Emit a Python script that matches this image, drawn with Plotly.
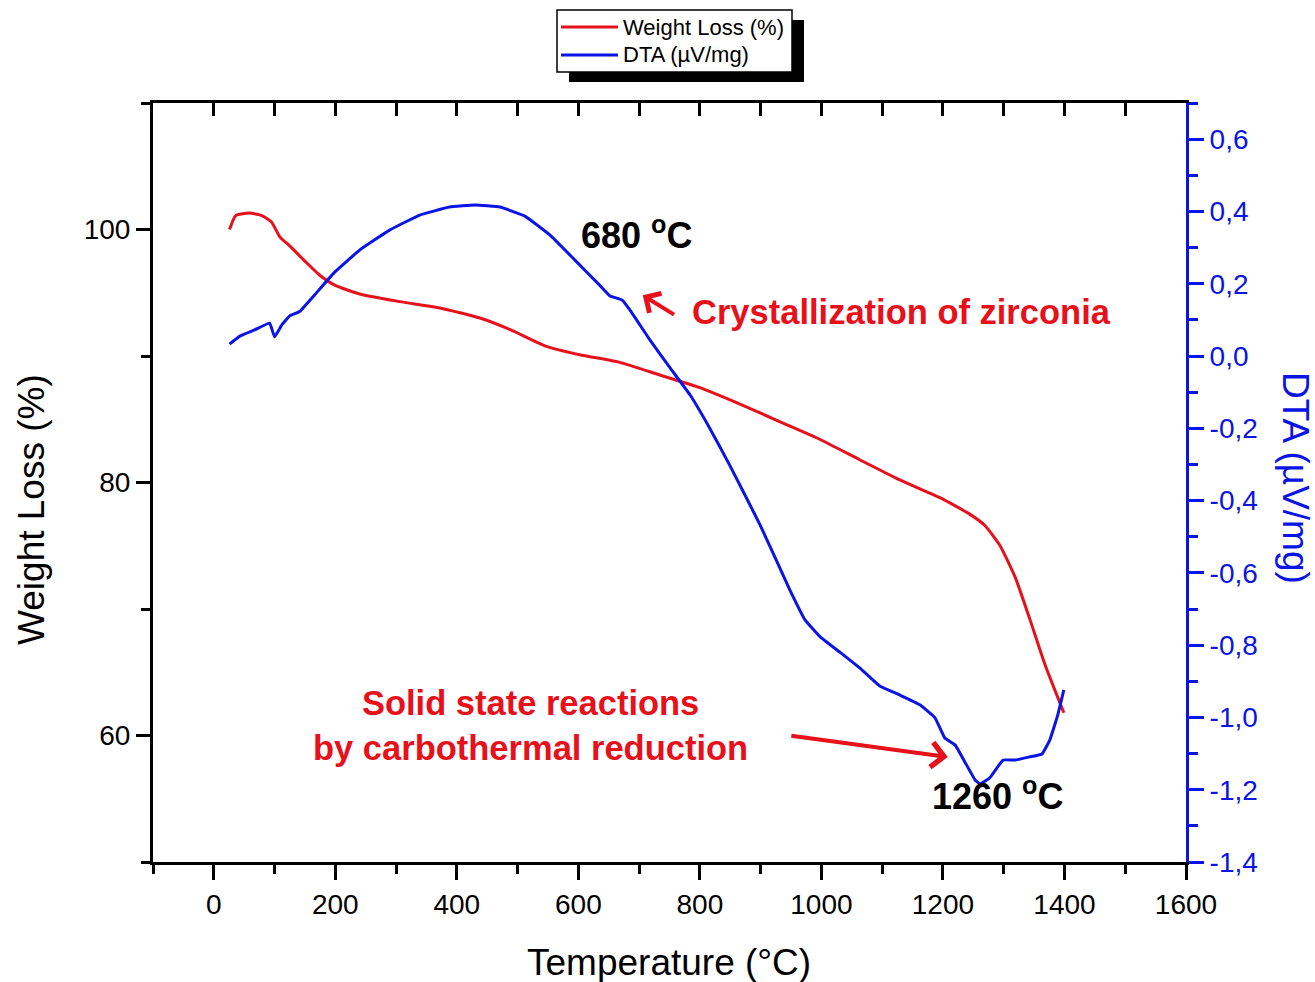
import plotly.graph_objects as go

# ---- data ----
temp_wl = [26, 36, 59, 79, 95, 109, 125, 150, 174, 199, 240, 306, 372, 438, 487, 545, 602, 668,
           734, 800, 866, 932, 998, 1063, 1129, 1195, 1244, 1269, 1294, 1319, 1343, 1368, 1399]
weight_loss = [100.0, 101.1, 101.3, 101.1, 100.6, 99.4, 98.7, 97.5, 96.4, 95.6, 94.9, 94.3, 93.8,
               93.0, 92.1, 90.8, 90.1, 89.5, 88.5, 87.5, 86.2, 84.8, 83.4, 81.8, 80.2, 78.8, 77.5,
               76.6, 75.0, 72.5, 69.2, 65.6, 61.8]

temp_dta = [26, 43, 67, 92, 100, 112, 125, 142, 166, 199, 240, 290, 339, 388, 430, 471, 512, 553,
            594, 635, 652, 672, 685, 718, 751, 784, 816, 849, 899, 948, 973, 998, 1030, 1063, 1096,
            1129, 1162, 1187, 1203, 1220, 1236, 1253, 1261, 1277, 1299, 1319, 1343, 1363, 1376,
            1389, 1399]
dta = [0.033, 0.055, 0.072, 0.091, 0.053, 0.086, 0.111, 0.124, 0.169, 0.232, 0.293, 0.349, 0.390,
       0.412, 0.418, 0.412, 0.387, 0.335, 0.266, 0.196, 0.166, 0.155, 0.127, 0.044, -0.033, -0.108,
       -0.199, -0.302, -0.467, -0.647, -0.730, -0.777, -0.819, -0.863, -0.913, -0.938, -0.965,
       -1.001, -1.057, -1.076, -1.123, -1.173, -1.184, -1.167, -1.118, -1.118, -1.109, -1.101,
       -1.062, -0.993, -0.924]

series_names = ["Weight Loss (%)", "DTA (µV/mg)"]

x_ticks = [0, 200, 400, 600, 800, 1000, 1200, 1400, 1600]
wl_ticks = [60, 80, 100]
dta_ticks = [0.6, 0.4, 0.2, 0.0, -0.2, -0.4, -0.6, -0.8, -1.0, -1.2, -1.4]
dta_tick_text = ["0,6", "0,4", "0,2", "0,0", "-0,2", "-0,4", "-0,6", "-0,8", "-1,0", "-1,2", "-1,4"]

FONT = "Liberation Sans, Arial, Helvetica, sans-serif"
RED = "#e8101a"
BLUE = "#0a14e6"

# plot-area geometry in pixels (for paper-coordinate placement of decorations)
L, R, T, B = 153, 1186, 103, 862
W_, H_ = R - L, B - T


def px(xp):
    return (xp - L) / W_


def py(yp):
    return (B - yp) / H_


fig = go.Figure()
fig.add_trace(go.Scatter(x=temp_wl, y=weight_loss, mode="lines", name=series_names[0],
                         line=dict(color=RED, width=3, shape="spline", smoothing=0.5),
                         xaxis="x", yaxis="y"))
fig.add_trace(go.Scatter(x=temp_dta, y=dta, mode="lines", name=series_names[1],
                         line=dict(color=BLUE, width=3, shape="spline", smoothing=0.3),
                         xaxis="x", yaxis="y2"))
# invisible trace to activate the top axis
fig.add_trace(go.Scatter(x=[None], y=[None], xaxis="x2", yaxis="y", showlegend=False,
                         hoverinfo="skip"))

fig.update_layout(
    width=1315, height=982,
    margin=dict(l=L, r=1315 - R, t=T, b=982 - B),
    paper_bgcolor="white", plot_bgcolor="white",
    font=dict(family=FONT, size=28, color="black"),
    showlegend=False,
    xaxis=dict(range=[-100, 1600], tickvals=x_ticks, ticks="outside", ticklen=15, tickwidth=3,
               tickcolor="black", showline=True, linewidth=3, linecolor="black",
               showgrid=False, zeroline=False,
               minor=dict(dtick=100, tick0=0, ticks="outside", ticklen=9, tickwidth=3,
                          tickcolor="black", showgrid=False),
               tickfont=dict(size=28)),
    xaxis2=dict(range=[-100, 1600], overlaying="x", side="top", matches="x",
                ticks="inside", dtick=100, tick0=0, ticklen=13, tickwidth=3, tickcolor="black",
                showticklabels=False, showline=True, linewidth=3, linecolor="black",
                showgrid=False, zeroline=False),
    yaxis=dict(range=[50, 110], tickvals=wl_ticks, ticks="outside", ticklen=14, tickwidth=3,
               tickcolor="black", showline=True, linewidth=3, linecolor="black",
               showgrid=False, zeroline=False,
               minor=dict(dtick=10, tick0=0, ticks="outside", ticklen=9, tickwidth=3,
                          tickcolor="black", showgrid=False),
               tickfont=dict(size=28)),
    yaxis2=dict(range=[-1.4, 0.7], overlaying="y", side="right", tickvals=dta_ticks,
                ticktext=dta_tick_text, ticks="outside", ticklen=15, tickwidth=3,
                tickcolor=BLUE, showline=True, linewidth=3, linecolor=BLUE,
                showgrid=False, zeroline=False,
                minor=dict(dtick=0.1, tick0=0, ticks="outside", ticklen=9, tickwidth=3,
                           tickcolor=BLUE, showgrid=False),
                tickfont=dict(size=28, color=BLUE)),
)

# ---- legend (drawn as a framed box with drop shadow) ----
fig.add_shape(type="rect", xref="paper", yref="paper",
              x0=px(569), x1=px(804), y0=py(82), y1=py(20),
              fillcolor="black", line=dict(width=0), layer="above")
fig.add_shape(type="rect", xref="paper", yref="paper",
              x0=px(557), x1=px(792), y0=py(72), y1=py(10),
              fillcolor="white", line=dict(color="black", width=1.5), layer="above")
for name, color, yrow in [(series_names[0], RED, 27), (series_names[1], BLUE, 55)]:
    fig.add_shape(type="line", xref="paper", yref="paper",
                  x0=px(561), x1=px(618), y0=py(yrow), y1=py(yrow),
                  line=dict(color=color, width=3), layer="above")
    fig.add_annotation(text=name, xref="paper", yref="paper", x=px(621), y=py(yrow),
                       xanchor="left", yanchor="middle", showarrow=False,
                       font=dict(family=FONT, size=22, color="black"))

# ---- axis titles ----
fig.add_annotation(text="Temperature (°C)", xref="paper", yref="paper",
                   x=px(669), y=py(962), xanchor="center", yanchor="middle", showarrow=False,
                   font=dict(family=FONT, size=37, color="black"))
fig.add_annotation(text="Weight Loss (%)", xref="paper", yref="paper",
                   x=px(32), y=py(510), xanchor="center", yanchor="middle", showarrow=False,
                   textangle=-90, font=dict(family=FONT, size=37, color="black"))
fig.add_annotation(text="DTA (µV/mg)", xref="paper", yref="paper",
                   x=px(1296), y=py(478), xanchor="center", yanchor="middle", showarrow=False,
                   textangle=90, font=dict(family=FONT, size=37, color=BLUE))

# ---- text annotations ----
fig.add_annotation(text="<b>680 <sup>o</sup>C</b>", x=695, y=99.7, xref="x", yref="y",
                   showarrow=False, font=dict(family=FONT, size=36, color="black"))
fig.add_annotation(text="<b>Crystallization of zirconia</b>", x=1131, y=93.5, xref="x", yref="y",
                   showarrow=False, font=dict(family=FONT, size=34.5, color=RED))
fig.add_annotation(text="<b>Solid state reactions<br>by carbothermal reduction</b>",
                   x=522, y=60.8, xref="x", yref="y", showarrow=False,
                   font=dict(family=FONT, size=34.5, color=RED))
fig.add_annotation(text="<b>1260 <sup>o</sup>C</b>", x=1290, y=55.4, xref="x", yref="y",
                   showarrow=False, font=dict(family=FONT, size=36, color="black"))

# ---- arrows ----
fig.add_annotation(text="", x=706, y=94.8, ax=760, ay=93.2, xref="x", yref="y",
                   axref="x", ayref="y", showarrow=True, arrowhead=4, arrowsize=1.1,
                   arrowwidth=4, arrowcolor=RED)
fig.add_annotation(text="", x=1208, y=58.3, ax=948, ay=60.0, xref="x", yref="y",
                   axref="x", ayref="y", showarrow=True, arrowhead=4, arrowsize=1.2,
                   arrowwidth=4, arrowcolor=RED)

fig.write_html("out.html")
